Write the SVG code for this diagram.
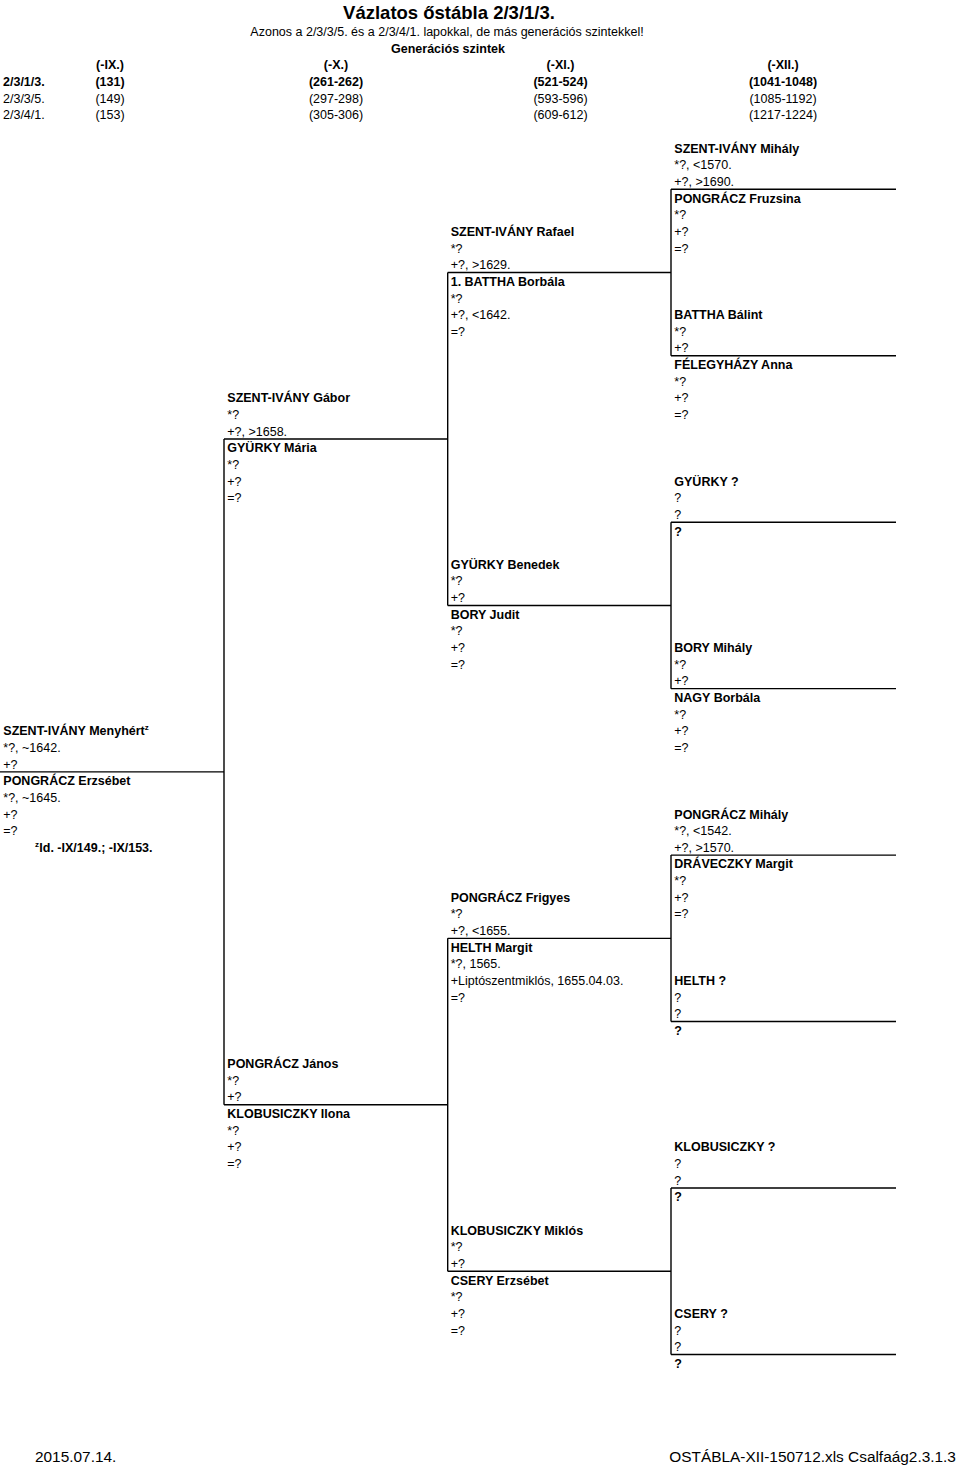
<svg xmlns="http://www.w3.org/2000/svg" width="960" height="1467" viewBox="0 0 960 1467">
<style>
text{font-family:"Liberation Sans",Arial,sans-serif;font-size:12.5px;fill:#000}
.b{font-weight:bold}
.t{font-size:18.5px;font-weight:bold}
.f{font-size:15.4px}
.c{text-anchor:middle}
.sup{font-size:8px;font-weight:bold}
.ln{stroke:#000;stroke-width:1.4;fill:none}
</style>
<rect width="960" height="1467" fill="#fff"/>
<g id="header">
<text class="t c" x="449" y="18.5">Vázlatos őstábla 2/3/1/3.</text>
<text class="c" x="447" y="36.2">Azonos a 2/3/3/5. és a 2/3/4/1. lapokkal, de más generációs szintekkel!</text>
<text class="b c" x="448" y="52.84">Generációs szintek</text>
<text class="b c" x="110" y="69.49">(-IX.)</text>
<text class="b c" x="336" y="69.49">(-X.)</text>
<text class="b c" x="560.5" y="69.49">(-XI.)</text>
<text class="b c" x="783" y="69.49">(-XII.)</text>
<text class="b" x="3" y="86.13">2/3/1/3.</text>
<text class="b c" x="110" y="86.13">(131)</text>
<text class="b c" x="336" y="86.13">(261-262)</text>
<text class="b c" x="560.5" y="86.13">(521-524)</text>
<text class="b c" x="783" y="86.13">(1041-1048)</text>
<text x="3" y="102.78">2/3/3/5.</text>
<text class="c" x="110" y="102.78">(149)</text>
<text class="c" x="336" y="102.78">(297-298)</text>
<text class="c" x="560.5" y="102.78">(593-596)</text>
<text class="c" x="783" y="102.78">(1085-1192)</text>
<text x="3" y="119.42">2/3/4/1.</text>
<text class="c" x="110" y="119.42">(153)</text>
<text class="c" x="336" y="119.42">(305-306)</text>
<text class="c" x="560.5" y="119.42">(609-612)</text>
<text class="c" x="783" y="119.42">(1217-1224)</text>
</g>
<g id="connectors">
<path class="ln" d="M0 771.88H224M224 438.98V1104.78"/>
<path class="ln" d="M224 438.98H447.7M224 1104.78H447.7M447.7 272.53V605.43M447.7 938.33V1271.23"/>
<path class="ln" d="M447.7 272.53H671M447.7 605.43H671M447.7 938.33H671M447.7 1271.23H671"/>
<path class="ln" d="M671 189.3V355.75M671 522.2V688.65M671 855.1V1021.55M671 1188V1354.45"/>
<path class="ln" d="M671 189.3H896M671 355.75H896M671 522.2H896M671 688.65H896M671 855.1H896M671 1021.55H896M671 1188H896M671 1354.45H896"/>
</g>
<g id="p-szent-ivany-menyhert">
<text x="3.3" y="735.29"><tspan class="b">SZENT-IVÁNY Menyhért</tspan><tspan class="sup" dy="-5">z</tspan></text>
<text x="3.3" y="751.93">*?, ~1642.</text>
<text x="3.3" y="768.58">+?</text>
</g>
<g id="p-pongracz-erzsebet">
<text class="b" x="3.3" y="785.22">PONGRÁCZ Erzsébet</text>
<text x="3.3" y="801.87">*?, ~1645.</text>
<text x="3.3" y="818.51">+?</text>
<text x="3.3" y="835.16">=?</text>
<text x="35" y="851.8"><tspan class="sup" dy="-5">z</tspan><tspan class="b" x="39.3" dy="5">Id. -IX/149.; -IX/153.</tspan></text>
</g>
<g id="p-szent-ivany-gabor">
<text class="b" x="227.3" y="402.39">SZENT-IVÁNY Gábor</text>
<text x="227.3" y="419.03">*?</text>
<text x="227.3" y="435.68">+?, &gt;1658.</text>
</g>
<g id="p-gyurky-maria">
<text class="b" x="227.3" y="452.32">GYÜRKY Mária</text>
<text x="227.3" y="468.97">*?</text>
<text x="227.3" y="485.61">+?</text>
<text x="227.3" y="502.26">=?</text>
</g>
<g id="p-pongracz-janos">
<text class="b" x="227.3" y="1068.19">PONGRÁCZ János</text>
<text x="227.3" y="1084.83">*?</text>
<text x="227.3" y="1101.48">+?</text>
</g>
<g id="p-klobusiczky-ilona">
<text class="b" x="227.3" y="1118.12">KLOBUSICZKY Ilona</text>
<text x="227.3" y="1134.77">*?</text>
<text x="227.3" y="1151.41">+?</text>
<text x="227.3" y="1168.06">=?</text>
</g>
<g id="p-szent-ivany-rafael">
<text class="b" x="450.7" y="235.94">SZENT-IVÁNY Rafael</text>
<text x="450.7" y="252.58">*?</text>
<text x="450.7" y="269.23">+?, &gt;1629.</text>
</g>
<g id="p-battha-borbala">
<text class="b" x="450.7" y="285.87">1. BATTHA Borbála</text>
<text x="450.7" y="302.52">*?</text>
<text x="450.7" y="319.16">+?, &lt;1642.</text>
<text x="450.7" y="335.81">=?</text>
</g>
<g id="p-gyurky-benedek">
<text class="b" x="450.7" y="568.84">GYÜRKY Benedek</text>
<text x="450.7" y="585.48">*?</text>
<text x="450.7" y="602.13">+?</text>
</g>
<g id="p-bory-judit">
<text class="b" x="450.7" y="618.77">BORY Judit</text>
<text x="450.7" y="635.42">*?</text>
<text x="450.7" y="652.06">+?</text>
<text x="450.7" y="668.71">=?</text>
</g>
<g id="p-pongracz-frigyes">
<text class="b" x="450.7" y="901.74">PONGRÁCZ Frigyes</text>
<text x="450.7" y="918.38">*?</text>
<text x="450.7" y="935.03">+?, &lt;1655.</text>
</g>
<g id="p-helth-margit">
<text class="b" x="450.7" y="951.67">HELTH Margit</text>
<text x="450.7" y="968.32">*?, 1565.</text>
<text x="450.7" y="984.96">+Liptószentmiklós, 1655.04.03.</text>
<text x="450.7" y="1001.61">=?</text>
</g>
<g id="p-klobusiczky-miklos">
<text class="b" x="450.7" y="1234.64">KLOBUSICZKY Miklós</text>
<text x="450.7" y="1251.28">*?</text>
<text x="450.7" y="1267.93">+?</text>
</g>
<g id="p-csery-erzsebet">
<text class="b" x="450.7" y="1284.57">CSERY Erzsébet</text>
<text x="450.7" y="1301.22">*?</text>
<text x="450.7" y="1317.86">+?</text>
<text x="450.7" y="1334.51">=?</text>
</g>
<g id="p-szent-ivany-mihaly">
<text class="b" x="674.3" y="152.71">SZENT-IVÁNY Mihály</text>
<text x="674.3" y="169.36">*?, &lt;1570.</text>
<text x="674.3" y="186">+?, &gt;1690.</text>
</g>
<g id="p-pongracz-fruzsina">
<text class="b" x="674.3" y="202.65">PONGRÁCZ Fruzsina</text>
<text x="674.3" y="219.29">*?</text>
<text x="674.3" y="235.94">+?</text>
<text x="674.3" y="252.58">=?</text>
</g>
<g id="p-battha-balint">
<text class="b" x="674.3" y="319.16">BATTHA Bálint</text>
<text x="674.3" y="335.81">*?</text>
<text x="674.3" y="352.45">+?</text>
</g>
<g id="p-felegyhazy-anna">
<text class="b" x="674.3" y="369.1">FÉLEGYHÁZY Anna</text>
<text x="674.3" y="385.74">*?</text>
<text x="674.3" y="402.39">+?</text>
<text x="674.3" y="419.03">=?</text>
</g>
<g id="p-gyurky-unknown">
<text class="b" x="674.3" y="485.61">GYÜRKY ?</text>
<text x="674.3" y="502.26">?</text>
<text x="674.3" y="518.9">?</text>
</g>
<g id="p-gyurky-wife">
<text class="b" x="674.3" y="535.55">?</text>
</g>
<g id="p-bory-mihaly">
<text class="b" x="674.3" y="652.06">BORY Mihály</text>
<text x="674.3" y="668.71">*?</text>
<text x="674.3" y="685.35">+?</text>
</g>
<g id="p-nagy-borbala">
<text class="b" x="674.3" y="702">NAGY Borbála</text>
<text x="674.3" y="718.64">*?</text>
<text x="674.3" y="735.29">+?</text>
<text x="674.3" y="751.93">=?</text>
</g>
<g id="p-pongracz-mihaly">
<text class="b" x="674.3" y="818.51">PONGRÁCZ Mihály</text>
<text x="674.3" y="835.16">*?, &lt;1542.</text>
<text x="674.3" y="851.8">+?, &gt;1570.</text>
</g>
<g id="p-draveczky-margit">
<text class="b" x="674.3" y="868.45">DRÁVECZKY Margit</text>
<text x="674.3" y="885.09">*?</text>
<text x="674.3" y="901.74">+?</text>
<text x="674.3" y="918.38">=?</text>
</g>
<g id="p-helth-unknown">
<text class="b" x="674.3" y="984.96">HELTH ?</text>
<text x="674.3" y="1001.61">?</text>
<text x="674.3" y="1018.25">?</text>
</g>
<g id="p-helth-wife">
<text class="b" x="674.3" y="1034.9">?</text>
</g>
<g id="p-klobusiczky-unknown">
<text class="b" x="674.3" y="1151.41">KLOBUSICZKY ?</text>
<text x="674.3" y="1168.06">?</text>
<text x="674.3" y="1184.7">?</text>
</g>
<g id="p-klobusiczky-wife">
<text class="b" x="674.3" y="1201.35">?</text>
</g>
<g id="p-csery-unknown">
<text class="b" x="674.3" y="1317.86">CSERY ?</text>
<text x="674.3" y="1334.51">?</text>
<text x="674.3" y="1351.15">?</text>
</g>
<g id="p-csery-wife">
<text class="b" x="674.3" y="1367.8">?</text>
</g>
<g id="footer">
<text class="f" x="35" y="1462">2015.07.14.</text>
<text class="f" x="669.3" y="1462">OSTÁBLA-XII-150712.xls Csalfaág2.3.1.3</text>
</g>
</svg>
